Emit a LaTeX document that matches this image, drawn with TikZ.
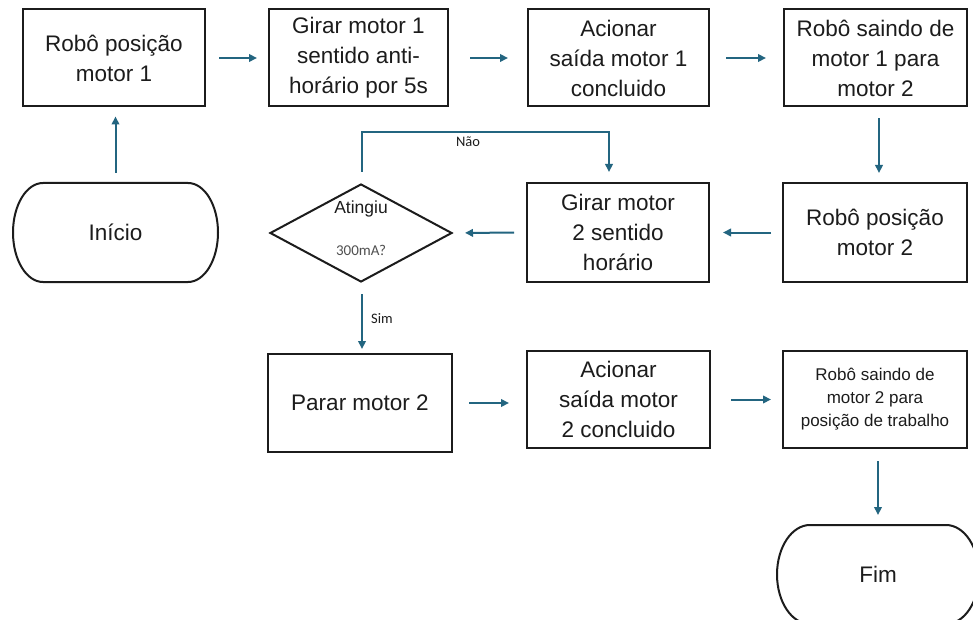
\documentclass[tikz,border=0pt]{standalone}
\usepackage{fontspec}
\setmainfont{Liberation Sans}
\newfontfamily\lblfont{Carlito}
\usetikzlibrary{arrows.meta,shapes.geometric,calc}
\definecolor{arrowc}{HTML}{236580}
\definecolor{inkc}{HTML}{1C1C1C}
\definecolor{grayc}{HTML}{505050}
\tikzset{
  box/.style={draw=inkc, line width=2pt, rectangle, minimum width=182pt, minimum height=97pt,
    align=center, text=inkc, font=\fontsize{22.5}{30}\selectfont, inner sep=0pt},
  smallbox/.style={box, font=\fontsize{17}{23}\selectfont},
  decision/.style={draw=inkc, line width=2pt, diamond, aspect=1.86, minimum width=182pt, minimum height=98pt, inner sep=0pt},
  ghost/.style={rectangle, inner sep=0pt, outer sep=0pt, text=inkc, font=\fontsize{22.5}{30}\selectfont},
  flow/.style={draw=arrowc, line width=2pt, -{Triangle[length=8pt,width=7.5pt]}},
  lbl/.style={font=\lblfont\fontsize{14.5}{16}\selectfont, text=inkc, inner sep=0pt},
}
\begin{document}
\begin{tikzpicture}[x=1pt,y=-1pt]
\useasboundingbox (0,0) rectangle (973,620);
\clip (0,0) rectangle (973,620);
\fill[white] (0,0) rectangle (973,620);
% row 1
\node[box, minimum width=182pt] (a) at (114,58) {Robô posição\\motor 1};
\node[box, minimum width=179pt] (b) at (358.5,58) {Girar motor 1\\sentido anti-\\horário por 5s};
\node[box, minimum width=181pt] (c) at (618.5,58) {Acionar\\saída motor 1\\concluido};
\node[box, minimum width=183pt] (d) at (875.5,58) {Robô saindo de\\motor 1 para\\motor 2};
% row 2
\node[box, minimum width=184pt, minimum height=99pt] (r2) at (875,232.5) {Robô posição\\motor 2};
\node[box, minimum width=182pt, minimum height=99pt] (g2) at (618,232.5) {Girar motor\\2 sentido\\horário};
\node[decision] (q) at (361,233) {};
\node[font=\fontsize{17.5}{20}\selectfont, text=inkc, inner sep=0pt] (qt) at (361,209) {Atingiu};
\node[font=\lblfont\fontsize{15}{16}\selectfont, text=grayc, inner sep=0pt] (qv) at (361,250) {300mA?};
% start
\node[ghost, minimum width=205pt, minimum height=99pt] (ini) at (115.5,232.5) {Início};
\draw[inkc, line width=2pt, line join=round]
  ([xshift=30pt]ini.north west) -- ([xshift=-30pt]ini.north east)
  arc[start angle=90, end angle=-90, x radius=30pt, y radius=49.5pt]
  -- ([xshift=30pt]ini.south west)
  arc[start angle=270, end angle=90, x radius=30pt, y radius=49.5pt] -- cycle;
% row 3
\node[box, minimum width=184pt, minimum height=98pt] (p2) at (360,403) {Parar motor 2};
\node[box, minimum width=183pt] (c2) at (618.5,399.5) {Acionar\\saída motor\\2 concluido};
\node[smallbox, minimum width=184pt] (r3) at (875,399.5) {Robô saindo de\\motor 2 para\\posição de trabalho};
% end
\node[ghost, minimum width=202pt, minimum height=99pt] (fim) at (878,574.5) {Fim};
\draw[inkc, line width=2pt, line join=round]
  ([xshift=33pt]fim.north west) -- ([xshift=-33pt]fim.north east)
  arc[start angle=90, end angle=-90, x radius=33pt, y radius=49.5pt]
  -- ([xshift=33pt]fim.south west)
  arc[start angle=270, end angle=90, x radius=33pt, y radius=49.5pt] -- cycle;
% connectors
\draw[flow, shorten <=13pt, shorten >=11pt] (a.east) -- (b.west);
\draw[flow, shorten <=21pt, shorten >=19pt] (b.east) -- (c.west);
\draw[flow, shorten <=16pt, shorten >=17pt] (c.east) -- (d.west);
\draw[flow, shorten <=11pt, shorten >=9pt] ([xshift=3.5pt]d.south) -- ([xshift=3.5pt]d.south |- r2.north);
\draw[flow, shorten <=11pt, shorten >=13pt] (r2.west) -- (g2.east);
\draw[flow, shorten <=12pt, shorten >=12pt] (g2.west) -- (q.east);
\draw[flow, shorten <=10pt, shorten >=9pt] (ini.north) -- (ini.north |- a.south);
\coordinate (nA) at (362,132);
\coordinate (nB) at (609,132);
\draw[flow, shorten <=11pt, shorten >=10pt] ([xshift=1pt]q.north) -- (nA) -- (nB) -- (nB |- g2.north);
\node[lbl] (nao) at (468,142) {Não};
\draw[flow, shorten <=11pt, shorten >=4pt] ([xshift=1pt]q.south) -- ([xshift=1pt]q.south |- p2.north);
\node[lbl] (sim) at (382,319) {Sim};
\draw[flow, shorten <=16pt, shorten >=17pt] (p2.east) -- (p2.east -| c2.west);
\draw[flow, shorten <=20pt, shorten >=11pt] (c2.east) -- (r3.west);
\draw[flow, shorten <=12pt, shorten >=10pt] ([xshift=3pt]r3.south) -- ([xshift=3pt]r3.south |- fim.north);
\end{tikzpicture}
\end{document}
